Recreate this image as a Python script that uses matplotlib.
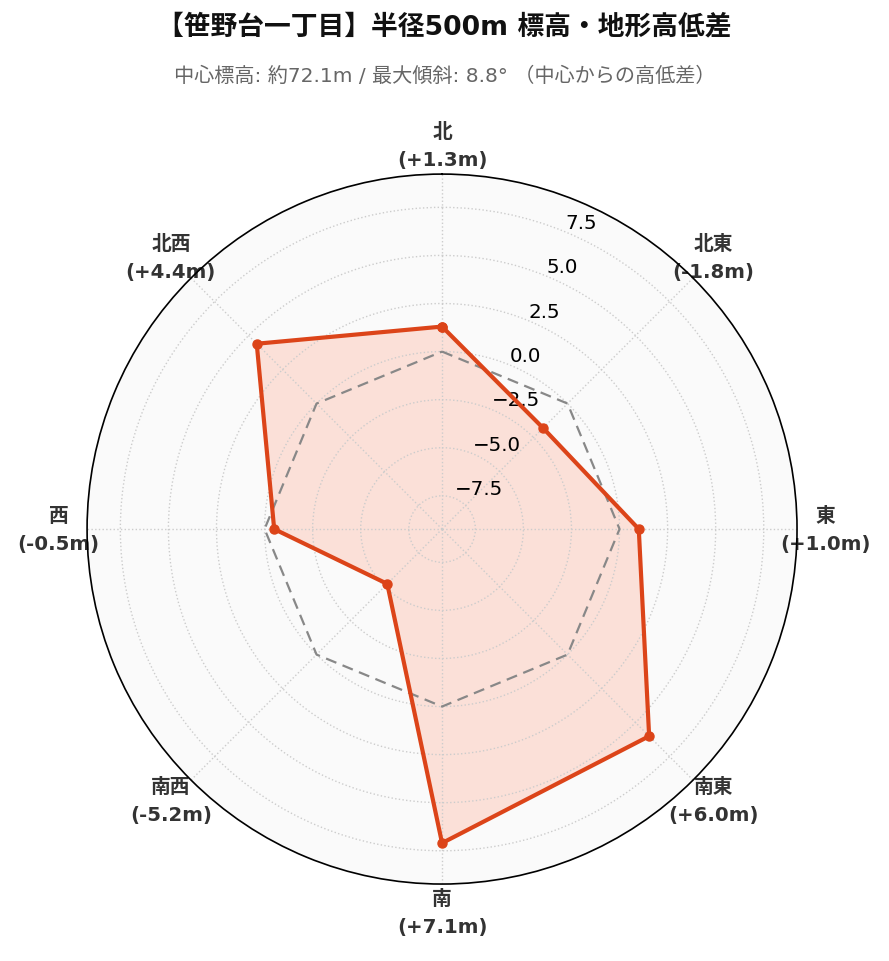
import numpy as np
import matplotlib
matplotlib.use("Agg")
import matplotlib.pyplot as plt

directions = ["北", "北東", "東", "南東", "南", "南西", "西", "北西"]
diffs = [1.3, -1.8, 1.0, 6.0, 7.1, -5.2, -0.5, 4.4]
rticks = [-7.5, -5.0, -2.5, 0.0, 2.5, 5.0, 7.5]

title = "【笹野台一丁目】半径500m 標高・地形高低差"
subtitle = "中心標高: 約72.1m / 最大傾斜: 8.8° （中心からの高低差）"

FAM = ["DejaVu Sans", "Noto Sans CJK JP"]
line_color = "#dc4419"

fig = plt.figure(figsize=(8.89, 9.62), dpi=100)
ax = fig.add_axes([0.0979, 0.080, 0.7987, 0.738], projection="polar")
ax.set_theta_zero_location("N")
ax.set_theta_direction(-1)
ax.set_facecolor("#fafafa")

n = len(directions)
angles = np.arange(n) * 2 * np.pi / n
ang_c = np.append(angles, angles[0])
val_c = np.append(diffs, diffs[0])

rmax = max(abs(v) for v in diffs) * 1.3
ax.set_ylim(-rmax, rmax)

# zero reference
ax.plot(ang_c, np.zeros_like(ang_c), linestyle=(0, (5, 3)), color="#888888", lw=1.6, zorder=3)
ax.fill(ang_c, val_c, color="#fcdcd3", alpha=0.85, zorder=1, lw=0)
ax.plot(ang_c, val_c, color=line_color, lw=3, marker="o", markersize=6.5, zorder=4)

ax.set_xticks(angles)
labels = [f"{d}\n({v:+.1f}m)" for d, v in zip(directions, diffs)]
ax.set_xticklabels(labels, fontsize=14.2, fontweight="bold", color="#333333",
                   family=FAM, linespacing=1.6)
ax.tick_params(axis="x", pad=10)

ax.set_yticks(rticks)
ax.set_rlabel_position(22.5)
ax.tick_params(axis="y", labelsize=14.3)
for t in ax.get_yticklabels():
    t.set_family("DejaVu Sans")
    t.set_zorder(6)

ax.grid(True, color="#cccccc", linestyle=":", lw=1)
ax.spines["polar"].set_color("black")
ax.spines["polar"].set_linewidth(1.2)

fig.text(0.5, 0.971, title, ha="center", va="center", fontsize=19.3,
         fontweight="bold", family=FAM, color="#111111")
fig.text(0.5, 0.921, subtitle, ha="center", va="center", fontsize=14.5,
         family=FAM, color="#666666")

fig.savefig("out.png", dpi=100, facecolor="white")
